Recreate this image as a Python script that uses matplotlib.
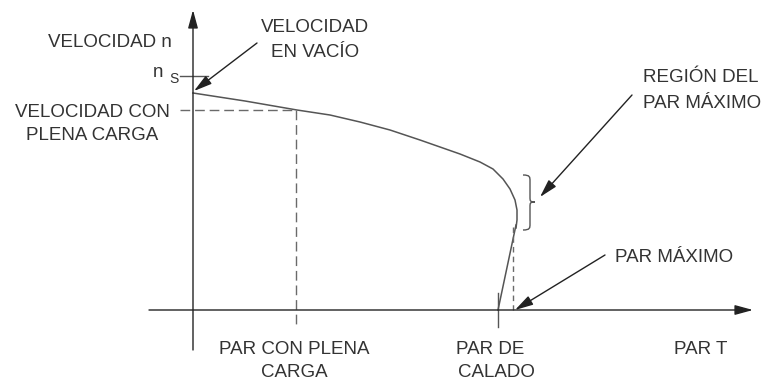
import matplotlib.pyplot as plt
from matplotlib.path import Path
from matplotlib.patches import PathPatch

plt.rcParams['font.family'] = ['Liberation Sans', 'DejaVu Sans']

# curva par-velocidad (unidades del dibujo: par T en x, velocidad n en y)
par_curva = [0.00, 0.52, 1.04, 1.37, 1.67, 1.97, 2.27, 2.47, 2.67, 2.87, 3.00,
             3.10, 3.17, 3.22, 3.24, 3.24, 3.23]
vel_curva = [2.17, 2.09, 2.00, 1.95, 1.88, 1.80, 1.70, 1.63, 1.56, 1.48, 1.41,
             1.31, 1.21, 1.10, 1.00, 0.90, 0.82]
# tramo recto bajo el par maximo
par_recta = [3.23, 3.05]
vel_recta = [0.85, 0.00]

n_s = 2.34          # velocidad sincronica
n_vacio = 2.17      # velocidad en vacio
par_pc = 1.03       # par con plena carga
vel_pc = 2.00       # velocidad con plena carga
par_calado = 3.05
par_max = 3.20
vel_par_max = 0.83

LINE = '#555555'
DASH = '#6a6a6a'
TXT = '#333333'
FS = 13.5

fig = plt.figure(figsize=(7.7, 3.81), dpi=100)
ax = fig.add_axes([0, 0, 1, 1])
ax.set_xlim(-1.93, 5.77)
ax.set_ylim(-0.71, 3.10)
ax.axis('off')

arrow_head = '-|>,head_length=1.1,head_width=0.3'

# ejes
ax.annotate('', xy=(0, 3.00), xytext=(0, -0.40),
            arrowprops=dict(arrowstyle=arrow_head, mutation_scale=10,
                            color='#222222', lw=1.0, shrinkA=0, shrinkB=0))
ax.annotate('', xy=(5.60, 0), xytext=(-0.44, 0),
            arrowprops=dict(arrowstyle=arrow_head, mutation_scale=10,
                            color='#222222', lw=1.0, shrinkA=0, shrinkB=0))

# curva
ax.plot(par_curva, vel_curva, color=LINE, lw=1.1, solid_joinstyle='round')
ax.plot(par_recta, vel_recta, color=LINE, lw=1.1)

# marcas
ax.plot([-0.13, 0.15], [n_s, n_s], color=LINE, lw=1.0)
ax.plot([-0.13, par_pc], [vel_pc, vel_pc], color=DASH, lw=1.0, ls=(0, (7, 3.5)))
ax.plot([par_pc, par_pc], [vel_pc, -0.17], color=DASH, lw=1.0, ls=(0, (7, 3.5)))
ax.plot([par_calado, par_calado], [0.17, -0.17], color=LINE, lw=1.0)
ax.plot([par_max, par_max], [vel_par_max, 0], color=DASH, lw=1.0, ls=(0, (4, 3)))

# llave de la region del par maximo
x0, x1, x2 = 3.30, 3.37, 3.42
top, mid, bot = 1.35, 1.08, 0.80
verts = [(x0, top), (x1, top), (x1, top - 0.02), (x1, top - 0.06),
         (x1, mid + 0.05),
         (x1, mid + 0.01), (x1, mid), (x2, mid),
         (x1, mid), (x1, mid - 0.01), (x1, mid - 0.05),
         (x1, bot + 0.06),
         (x1, bot + 0.02), (x1, bot), (x0, bot)]
codes = [Path.MOVETO, Path.CURVE4, Path.CURVE4, Path.CURVE4,
         Path.LINETO,
         Path.CURVE4, Path.CURVE4, Path.CURVE4,
         Path.CURVE4, Path.CURVE4, Path.CURVE4,
         Path.LINETO,
         Path.CURVE4, Path.CURVE4, Path.CURVE4]
ax.add_patch(PathPatch(Path(verts, codes), fill=False, edgecolor=LINE, lw=1.0))

# flechas de anotacion
def flecha(tip, start):
    ax.annotate('', xy=tip, xytext=start,
                arrowprops=dict(arrowstyle=arrow_head, mutation_scale=10,
                                color='#222222', lw=1.0, shrinkA=0, shrinkB=0))

flecha((0.01, n_vacio + 0.02), (0.64, 2.67))
flecha((3.47, 1.13), (4.39, 2.15))
flecha((par_max + 0.02, 0.0), (4.12, 0.55))

# textos
def txt(x, y, s, ha='left', fs=FS):
    ax.text(x, y, s, ha=ha, va='baseline', fontsize=fs, color=TXT)

txt(-0.21, 2.63, 'VELOCIDAD n', ha='right')
txt(-0.40, 2.33, 'n')
txt(-0.24, 2.27, 'S', fs=10)
txt(-1.01, 1.93, 'VELOCIDAD CON', ha='center')
txt(-1.01, 1.70, 'PLENA CARGA', ha='center')
txt(1.22, 2.78, 'VELOCIDAD', ha='center')
txt(1.22, 2.53, 'EN VACÍO', ha='center')
txt(4.50, 2.28, 'REGIÓN DEL')
txt(4.50, 2.02, 'PAR MÁXIMO')
txt(4.22, 0.48, 'PAR MÁXIMO')
txt(1.01, -0.44, 'PAR CON PLENA', ha='center')
txt(1.01, -0.67, 'CARGA', ha='center')
txt(2.63, -0.44, 'PAR DE')
txt(2.65, -0.67, 'CALADO')
txt(4.81, -0.44, 'PAR T')

fig.savefig('out.png', dpi=100)
